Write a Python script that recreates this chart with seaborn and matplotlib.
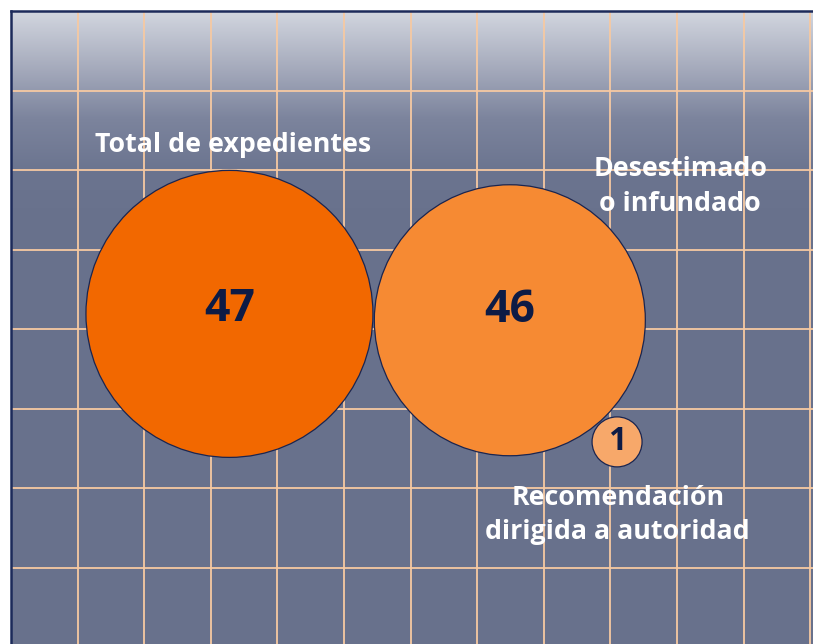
import numpy as np
import pandas as pd
import seaborn as sns
import matplotlib
matplotlib.use("Agg")
import matplotlib.pyplot as plt
from matplotlib.colors import LinearSegmentedColormap

# data
categorias = ["Total de expedientes", "Desestimado\no infundado", "Recomendación\ndirigida a autoridad"]
valores = [47, 46, 1]
pos_x = [3.28, 7.49, 9.10]
pos_y = [3.81, 3.89, 5.42]
label_x = [3.33, 10.05, 9.11]
label_y = [1.69, 2.21, 6.34]

# styles
colores = ["#f26800", "#f68a33", "#f7a86a"]
diam_px = [287, 271, 50]
num_size = [32, 32, 23]
num_dy = [-0.05, -0.12, 0.0]
dpi = 100

df = pd.DataFrame({"x": pos_x, "y": pos_y, "valor": valores, "cat": categorias})

sns.set_style("white")
plt.rcParams['font.family'] = ['Open Sans', 'DejaVu Sans']

fig = plt.figure(figsize=(8.13, 6.44), dpi=dpi)
ax = fig.add_axes([11/813, 0, 802/813, 633/644])
ax.set_facecolor("#68718c")

xmax = 802/66.6
ymax = 633/79.5
ax.set_xlim(0, xmax)
ax.set_ylim(ymax, 0)

# gradient at the top
grad = LinearSegmentedColormap.from_list("g", ["#d2d6df", "#a8adbe", "#7c849d", "#6b748f", "#68718c"])
ax.imshow(np.linspace(0, 1, 256).reshape(-1, 1), cmap=grad, aspect="auto",
          extent=[0, xmax, 2.7, 0], zorder=0)

ax.set_xticks(range(1, 13))
ax.set_yticks(range(1, 8))
ax.grid(True, color="#f6c9a2", lw=1.3)
ax.set_axisbelow(True)
ax.tick_params(length=0, labelbottom=False, labelleft=False)
for s in ["right", "bottom"]:
    ax.spines[s].set_visible(False)
for s in ["left", "top"]:
    ax.spines[s].set_color("#1c2a5a")
    ax.spines[s].set_linewidth(1.8)

sizes = {v: (d*72/dpi)**2 for v, d in zip(valores, diam_px)}
sns.scatterplot(data=df, x="x", y="y", hue="cat", palette=dict(zip(categorias, colores)),
                size="valor", sizes=sizes, edgecolor="#1a2550", linewidth=0.9,
                legend=False, ax=ax, zorder=3, alpha=1)

for i, v in enumerate(valores):
    ax.text(pos_x[i], pos_y[i] + num_dy[i], str(v), ha="center", va="center",
            fontsize=num_size[i], fontweight="bold", color="#0d1b45", zorder=4)
    ax.text(label_x[i], label_y[i], categorias[i], ha="center", va="center",
            fontsize=19.3, fontweight="bold", color="white", linespacing=1.42, zorder=4)

ax.set_xlabel("")
ax.set_ylabel("")
fig.savefig("out.png", dpi=dpi)
